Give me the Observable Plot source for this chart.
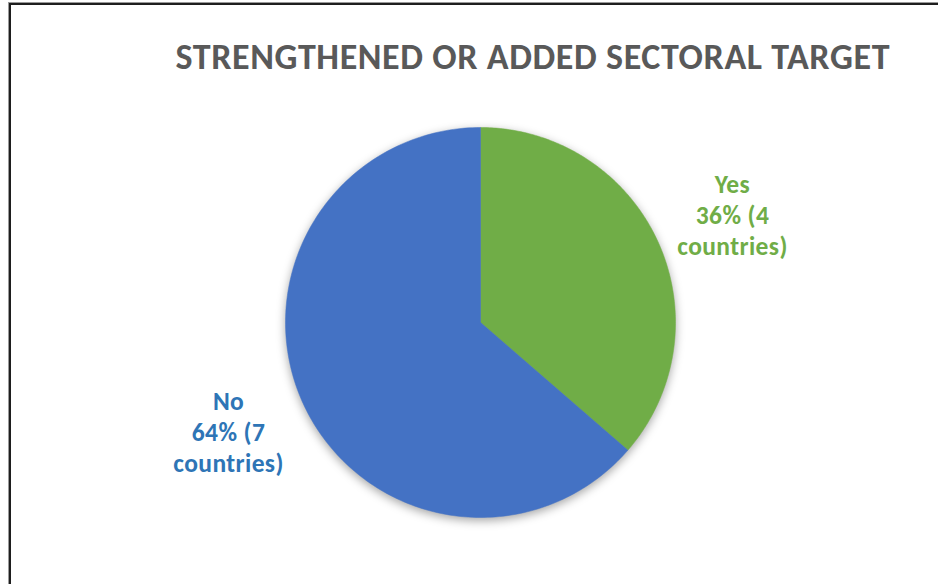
<!DOCTYPE html>
<html>
<head>
<meta charset="utf-8">
<script src="https://cdn.jsdelivr.net/npm/d3@7"></script>
<script src="https://cdn.jsdelivr.net/npm/@observablehq/plot@0.6"></script>
<style>
  html, body { margin: 0; padding: 0; background: #fff; overflow: hidden; }
  #wrap { position: relative; width: 938px; height: 584px; }
  #frame { position: absolute; left: 9px; top: 3px; width: 1000px; height: 1000px;
           border-left: 2px solid #1e1e1e; border-top: 2px solid #1e1e1e;
           box-shadow: -1px -1px 0 #9a9a9a; }
  #chart { position: absolute; left: 0; top: 0; }
  .slice { filter: drop-shadow(0px 3px 5px rgba(0,0,0,0.35)); }
  .title text { letter-spacing: 0.6px; }
  .lbl text { letter-spacing: 0.4px; }
</style>
</head>
<body>
<div id="wrap"><div id="frame"></div><div id="chart"></div></div>
<script>
const title = "STRENGTHENED OR ADDED SECTORAL TARGET";
const categories = ["Yes", "No"];
const counts = [4, 7];
const percentLabels = ["36%", "64%"];
const sliceColors = ["#70AD47", "#4472C4"];
const labelColors = ["#70AD47", "#2E75B6"];

const W = 938, H = 584;
const cx = 480, cy = 322, R = 195;
const labelRX = 277, labelRY = 262;
const FONT = "Carlito, Calibri, 'Open Sans', sans-serif";

const data = categories.map((c, i) => ({category: c, count: counts[i], pct: percentLabels[i]}));
const arcs = d3.pie().sort(null).value(d => d.count)(data);

const polys = [];
arcs.forEach(a => {
  polys.push({category: a.data.category, x: cx, y: cy});
  const n = 200;
  for (let k = 0; k <= n; k++) {
    const t = a.startAngle + (a.endAngle - a.startAngle) * k / n;
    polys.push({category: a.data.category, x: cx + R * Math.sin(t), y: cy - R * Math.cos(t)});
  }
  polys.push({category: a.data.category, x: cx, y: cy});
});

const labels = arcs.map(a => {
  const m = (a.startAngle + a.endAngle) / 2;
  return {
    category: a.data.category,
    text: `${a.data.category}\n${a.data.pct} (${a.data.count}\ncountries)`,
    x: cx + labelRX * Math.sin(m),
    y: cy - labelRY * Math.cos(m)
  };
});

const plot = Plot.plot({
  width: W, height: H,
  margin: 0,
  x: {domain: [0, W], range: [0, W], axis: null},
  y: {domain: [0, H], range: [0, H], axis: null},
  color: {domain: categories, range: sliceColors},
  style: {background: "transparent", overflow: "visible"},
  marks: [
    Plot.line(polys, {x: "x", y: "y", z: "category", fill: "category", stroke: "category", strokeWidth: 0.5, curve: "linear", className: "slice"}),
    Plot.text(labels, {x: "x", y: "y", text: "text", fill: d => labelColors[categories.indexOf(d.category)],
      fontSize: 25.5, fontWeight: "bold", fontFamily: FONT, lineHeight: 1.22, textAnchor: "middle", className: "lbl"}),
    Plot.text([title], {x: () => 175, y: () => 68, text: d => d, fill: "#595959", textAnchor: "start", lineAnchor: "bottom",
      fontSize: 36, fontWeight: "bold", fontFamily: FONT, className: "title"})
  ]
});
document.getElementById("chart").appendChild(plot);
</script>
</body>
</html>
